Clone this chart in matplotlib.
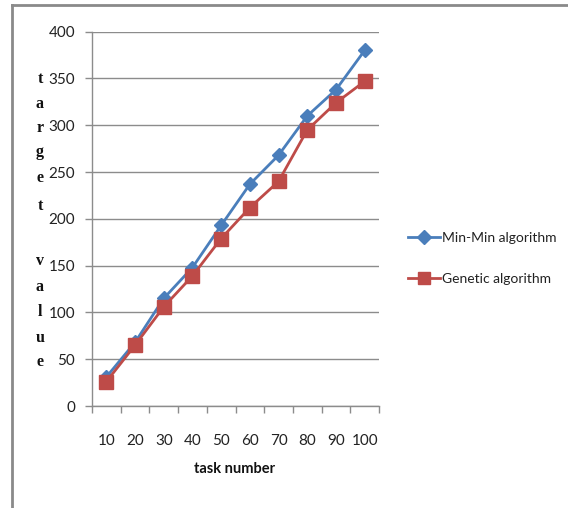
import matplotlib
matplotlib.use("Agg")
import matplotlib.pyplot as plt
from matplotlib.lines import Line2D
import numpy as np

# Data
task_numbers = ["10", "20", "30", "40", "50", "60", "70", "80", "90", "100"]
min_min = [31, 68, 115, 148, 193, 237, 268, 310, 338, 380]
genetic = [26, 65, 106, 139, 179, 212, 240, 295, 324, 347]
y_ticks = [0, 50, 100, 150, 200, 250, 300, 350, 400]
ylabel_letters = ["t", "a", "r", "g", "e", "t", "v", "a", "l", "u", "e"]
ylabel_pos_px = [79, 104, 128, 152, 178, 206, 261, 287, 312, 338, 362]

plt.rcParams['font.family'] = ['Lato', 'DejaVu Sans']

W, H = 568, 508
fig = plt.figure(figsize=(W / 100, H / 100), dpi=100)
fig.patch.set_facecolor("white")

left_px, right_px, top_px, bottom_px = 92, 379, 31.7, 406
ax = fig.add_axes([left_px / W, 1 - bottom_px / H,
                   (right_px - left_px) / W, (bottom_px - top_px) / H])

x = np.arange(len(task_numbers))
blue = "#4A7EBB"
red = "#BE4B48"
ax.plot(x, min_min, color=blue, lw=2.0, marker="D", markersize=7.5,
        markeredgecolor=blue, label="Min-Min algorithm", zorder=3)
ax.plot(x, genetic, color=red, lw=2.0, marker="s", markersize=10,
        markeredgecolor=red, label="Genetic algorithm", zorder=4)

ax.set_xlim(-0.5, len(task_numbers) - 0.5)
ax.set_ylim(0, 400)
ax.set_yticks(y_ticks)
ax.set_xticks(x)
ax.set_xticklabels(task_numbers)
ax.set_xticks(np.arange(-0.5, len(task_numbers)), minor=True)
ax.tick_params(axis="x", which="major", length=0, pad=20, labelsize=11,
               labelcolor="#222222")
ax.tick_params(axis="x", which="minor", length=5, color="#8c8c8c", width=1)
ax.tick_params(axis="y", which="major", length=5, color="#8c8c8c", width=1,
               labelsize=11, labelcolor="#222222", pad=7)

ax.grid(axis="y", color="#8c8c8c", lw=1)
ax.set_axisbelow(True)
for side in ("top", "right"):
    ax.spines[side].set_visible(False)
for side in ("left", "bottom"):
    ax.spines[side].set_color("#8c8c8c")
    ax.spines[side].set_linewidth(1)

# x-axis title
fig.text(235 / W, 1 - 469 / H, "task number", ha="center", va="center",
         fontsize=10.5, fontweight="bold", color="#111111")

# vertically stacked y-axis title
for ch, ypx in zip(ylabel_letters, ylabel_pos_px):
    fig.text(40 / W, 1 - ypx / H, ch, ha="center", va="center",
             fontsize=11.5, fontweight="bold", family="Liberation Serif",
             color="#111111")

# legend
leg = fig.legend(handles=[
    Line2D([], [], color=blue, lw=2.0, marker="D", markersize=7),
    Line2D([], [], color=red, lw=2.0, marker="s", markersize=9)],
    labels=["Min-Min algorithm", "Genetic algorithm"],
    loc="center left", bbox_to_anchor=(401 / W, 1 - 258.5 / H),
    frameon=False, fontsize=10, handlelength=2.3, handletextpad=0.15,
    labelspacing=2.1, borderpad=0)
for t in leg.get_texts():
    t.set_color("#222222")

# outer frame (left and top edges)
frame_color = "#8a8a8a"
fig.add_artist(Line2D([12 / W, 12 / W], [0, 1 - 5 / H], color=frame_color,
                      lw=2, transform=fig.transFigure))
fig.add_artist(Line2D([12 / W, 1], [1 - 5 / H, 1 - 5 / H], color=frame_color,
                      lw=2, transform=fig.transFigure))

fig.savefig("out.png", dpi=100, facecolor="white")
